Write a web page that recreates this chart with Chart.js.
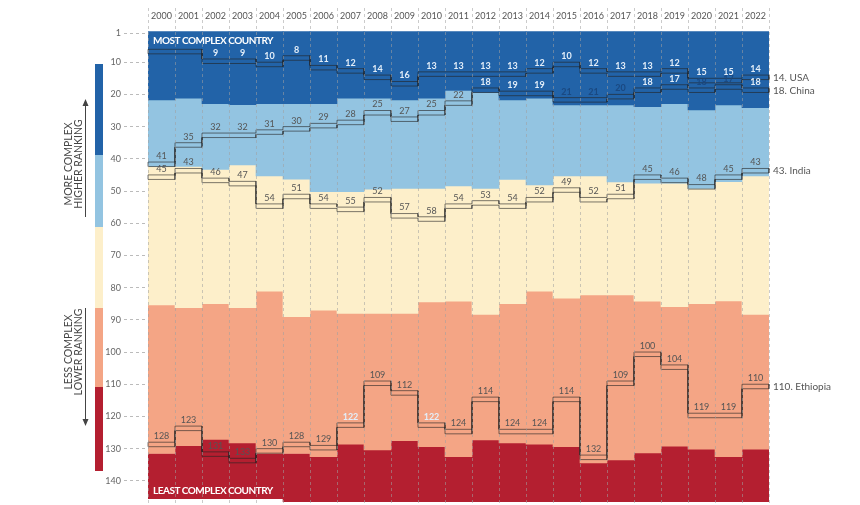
<!DOCTYPE html>
<html>
<head>
<meta charset="utf-8">
<script src="https://cdn.jsdelivr.net/npm/chart.js@4.4.1/dist/chart.umd.min.js"></script>
<style>
  html, body { margin: 0; padding: 0; background: #fff; }
  #wrap { width: 860px; height: 505px; position: relative; }
</style>
</head>
<body>
<div id="wrap"><canvas id="graficoRanking"></canvas></div>
<script>
// Years (top axis)
const years = [2000, 2001, 2002, 2003, 2004, 2005, 2006, 2007, 2008, 2009, 2010, 2011,
               2012, 2013, 2014, 2015, 2016, 2017, 2018, 2019, 2020, 2021, 2022];

// Band edges in rank units
const darkBlueEdge  = [21.7, 21.2, 22.9, 23.2, 22.9, 22.9, 22.9, 21.2, 21.2, 21.7, 21.2, 18.8,
                       19.4, 21.7, 21.2, 23.3, 23.3, 23.3, 23.8, 22.9, 24.8, 23.3, 24.1];
const lightBlueEdge = [42.4, 42.4, 43.3, 41.9, 45.3, 46.3, 50.2, 50.2, 49.4, 49.2, 49.2, 48.4,
                       49.2, 46.4, 48.1, 45.3, 45.3, 47.2, 47.6, 47.6, 49.2, 47.1, 45.3];
const creamEdge     = [85.4, 86.2, 85.0, 86.2, 81.1, 89.0, 87.0, 88.0, 88.0, 88.0, 84.4, 84.2,
                       88.3, 85.0, 81.1, 83.3, 82.3, 82.3, 84.2, 85.9, 85.0, 84.1, 88.3];
const salmonEdge    = [131.5, 129.1, 127.1, 128.2, 131.5, 131.5, 132.5, 128.6, 130.4, 127.5, 129.4, 132.5,
                       127.3, 128.2, 128.6, 129.4, 134.4, 133.5, 131.3, 129.2, 130.2, 132.5, 130.2];
const countriesRanked = [145, 145, 145, 145, 145, 146, 146, 146, 146, 146, 146, 146,
                         146, 146, 146, 146, 146, 146, 146, 146, 146, 146, 146];

// Country rankings
const usa      = [6, 6, 9, 9, 10, 8, 11, 12, 14, 16, 13, 13, 13, 13, 12, 10, 12, 13, 13, 12, 15, 15, 14];
const china    = [41, 35, 32, 32, 31, 30, 29, 28, 25, 27, 25, 22, 18, 19, 19, 21, 21, 20, 18, 17, 18, 17, 18];
const india    = [45, 43, 46, 47, 54, 51, 54, 55, 52, 57, 58, 54, 53, 54, 52, 49, 52, 51, 45, 46, 48, 45, 43];
const ethiopia = [128, 123, 131, 133, 130, 128, 129, 122, 109, 112, 122, 124, 114, 124, 124, 114, 132, 109, 100, 104, 119, 119, 110];

const yTicks = [1, 10, 20, 30, 40, 50, 60, 70, 80, 90, 100, 110, 120, 130, 140];

// labels that are hard to read in the picture / drawn in white
const mutedLabels = { USA: [2000, 2001], China: [2015, 2016, 2017, 2020, 2021] };
const whiteLabels = { Ethiopia: [2007, 2010] };

const bandColors = ["#2263a8", "#93c4e1", "#fdefca", "#f4a585", "#b41f30"];

const bandDatasets = bandColors.map((color, k) => ({
    type: "bar",
    data: years.map((y, i) => {
        const edges = [0.5, darkBlueEdge[i], lightBlueEdge[i], creamEdge[i], salmonEdge[i], countriesRanked[i] + 0.5];
        return [edges[k], edges[k + 1]];
    }),
    backgroundColor: color,
    borderWidth: 0,
    barPercentage: 1,
    categoryPercentage: 1,
    grouped: false,
    xAxisID: "x",
    yAxisID: "y",
    order: 2
}));

// outline of a country's rank band (step shape, closed at both ends)
function casing(values) {
    const top = [], bottom = [];
    values.forEach((v, i) => {
        top.push({ x: i - 0.5, y: v }, { x: i + 0.5, y: v });
        bottom.push({ x: i - 0.5, y: v + 1.4 }, { x: i + 0.5, y: v + 1.4 });
    });
    return top.concat(bottom.reverse(), [top[0]]);
}

const countries = [
    { name: "USA", values: usa },
    { name: "China", values: china },
    { name: "India", values: india },
    { name: "Ethiopia", values: ethiopia }
];

const lineDatasets = countries.map(c => ({
    type: "line",
    label: c.name,
    data: casing(c.values),
    borderColor: "rgba(35,35,35,0.6)",
    borderWidth: 1,
    pointRadius: 0,
    fill: false,
    clip: false,
    xAxisID: "xl",
    yAxisID: "y",
    order: 1
}));

const FONT = "Lato, 'Open Sans', sans-serif";

const decoraciones = {
    id: "decoraciones",
    afterDatasetsDraw(chart) {
        const ctx = chart.ctx;
        const area = chart.chartArea;
        const xl = chart.scales.xl;
        const x = chart.scales.x;
        const y = chart.scales.y;
        ctx.save();

        // vertical dashed separators
        ctx.strokeStyle = "rgba(160,160,160,0.55)";
        ctx.lineWidth = 1;
        ctx.setLineDash([3, 3]);
        for (let i = 0; i <= years.length; i++) {
            const px = Math.round(xl.getPixelForValue(i - 0.5)) + 0.5;
            ctx.beginPath();
            ctx.moveTo(px, 8);
            ctx.lineTo(px, area.bottom);
            ctx.stroke();
        }
        ctx.setLineDash([]);

        // year labels
        ctx.fillStyle = "#555";
        ctx.font = "9px " + FONT;
        ctx.textAlign = "center";
        ctx.textBaseline = "middle";
        years.forEach((yr, i) => ctx.fillText(String(yr), x.getPixelForValue(i), 16));

        // band captions
        ctx.fillStyle = "#fff";
        ctx.font = "bold 10px " + FONT;
        ctx.letterSpacing = "-0.5px";
        ctx.textAlign = "left";
        ctx.fillText("MOST COMPLEX COUNTRY", area.left + 5, y.getPixelForValue(3.4));
        ctx.fillText("LEAST COMPLEX COUNTRY", area.left + 5, y.getPixelForValue(143.2));
        ctx.letterSpacing = "0px";

        // value labels
        ctx.textAlign = "center";
        countries.forEach(c => {
            c.values.forEach((v, i) => {
                const yr = years[i];
                if (c.name === "USA" && mutedLabels.USA.includes(yr)) return;
                const muted = (mutedLabels[c.name] || []).includes(yr);
                const white = (whiteLabels[c.name] || []).includes(yr) ||
                              ((c.name === "USA" || c.name === "China") && v < darkBlueEdge[i]);
                if (muted) {
                    ctx.fillStyle = "rgba(25,70,125,0.9)";
                    ctx.font = "bold 9px " + FONT;
                } else if (white) {
                    ctx.fillStyle = "#e3eef9";
                    ctx.font = "bold 9px " + FONT;
                } else {
                    ctx.fillStyle = "#555";
                    ctx.font = "9px " + FONT;
                }
                ctx.fillText(String(v), x.getPixelForValue(i), y.getPixelForValue(v) - 6);
            });
        });

        // names on the right
        ctx.fillStyle = "#555";
        ctx.font = "10px " + FONT;
        ctx.textAlign = "left";
        countries.forEach(c => {
            const last = c.values[c.values.length - 1];
            ctx.fillText(last + ". " + c.name, area.right + 4, y.getPixelForValue(last + 0.8));
        });

        // left colour key
        const key = [[64, 155], [155, 227], [227, 308], [308, 387], [387, 471]];
        key.forEach((k, i) => {
            ctx.fillStyle = bandColors[i];
            ctx.fillRect(95, k[0], 8, k[1] - k[0]);
        });

        // arrows
        ctx.strokeStyle = "#444";
        ctx.fillStyle = "#444";
        ctx.lineWidth = 1;
        ctx.beginPath();
        ctx.moveTo(85.5, 217); ctx.lineTo(85.5, 104);
        ctx.moveTo(85.5, 308); ctx.lineTo(85.5, 421);
        ctx.stroke();
        ctx.beginPath();
        ctx.moveTo(85.5, 99); ctx.lineTo(82.5, 106); ctx.lineTo(88.5, 106); ctx.closePath();
        ctx.moveTo(85.5, 426); ctx.lineTo(82.5, 419); ctx.lineTo(88.5, 419); ctx.closePath();
        ctx.fill();

        // rotated captions
        ctx.font = "10.5px " + FONT;
        ctx.textAlign = "center";
        ctx.textBaseline = "middle";
        const rot = (txt, cx, cy) => {
            ctx.save();
            ctx.translate(cx, cy);
            ctx.rotate(-Math.PI / 2);
            ctx.fillText(txt, 0, 0);
            ctx.restore();
        };
        rot("MORE COMPLEX", 68.5, 164);
        rot("HIGHER RANKING", 79, 164);
        rot("LESS COMPLEX", 68.5, 352);
        rot("LOWER RANKING", 79, 352);

        ctx.restore();
    }
};

new Chart(document.getElementById("graficoRanking"), {
    data: {
        labels: years,
        datasets: [...bandDatasets, ...lineDatasets]
    },
    options: {
        responsive: true,
        maintainAspectRatio: false,
        animation: false,
        layout: { padding: { left: 88, right: 91, top: 30, bottom: 0 } },
        plugins: { legend: { display: false }, tooltip: { enabled: false } },
        scales: {
            x: { type: "category", display: false, offset: true },
            xl: { type: "linear", display: false, min: -0.5, max: years.length - 0.5 },
            y: {
                type: "linear",
                reverse: true,
                min: 0,
                max: 147.5,
                afterBuildTicks: axis => { axis.ticks = yTicks.map(v => ({ value: v })); },
                afterFit: axis => {
                    axis.width = 60;
                    axis.paddingTop = 0;
                    axis.paddingBottom = 0;
                },
                border: { display: false },
                grid: {
                    drawOnChartArea: false,
                    tickLength: 24,
                    tickBorderDash: [3, 3],
                    tickColor: "#bbb",
                    tickWidth: 1
                },
                ticks: { color: "#666", font: { family: FONT, size: 9 }, padding: 3 }
            }
        }
    },
    plugins: [decoraciones]
});
</script>
</body>
</html>
